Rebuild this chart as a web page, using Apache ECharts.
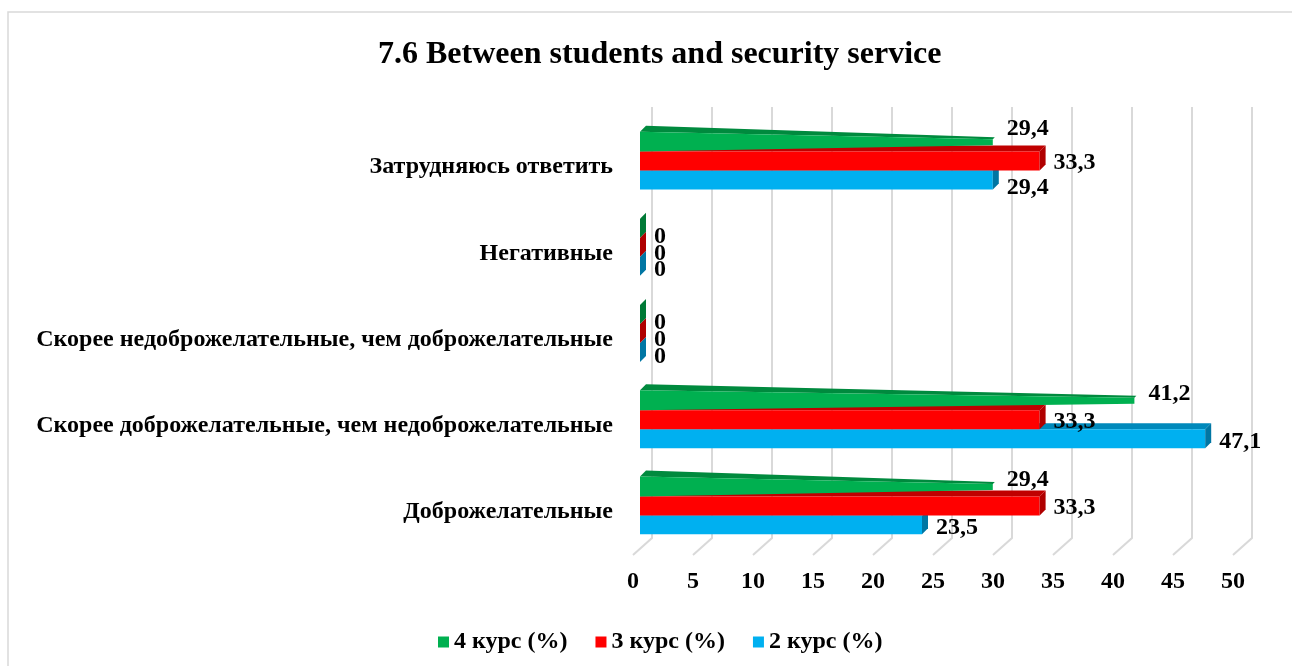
<!DOCTYPE html>
<html>
<head>
<meta charset="utf-8">
<script src="https://cdn.jsdelivr.net/npm/echarts@6/dist/echarts.min.js"></script>
<style>
  html, body { margin: 0; background: #fff; }
  #chart { width: 1292px; height: 666px; }
</style>
</head>
<body>
<div id="chart"></div>
<script>
// categories, bottom to top as on the picture
const categories = [
  'Доброжелательные',
  'Скорее доброжелательные, чем недоброжелательные',
  'Скорее недоброжелательные, чем доброжелательные',
  'Негативные',
  'Затрудняюсь ответить'
];
const course2 = [23.5, 47.1, 0, 0, 29.4];
const course3 = [33.3, 33.3, 0, 0, 33.3];
const course4 = [29.4, 41.2, 0, 0, 29.4];
const xTicks = [0, 5, 10, 15, 20, 25, 30, 35, 40, 45, 50];

const FONT = '"Liberation Serif", "Times New Roman", serif';
const DEPTH = 6;          // bar depth in px
const WALL = [19, -17];   // back wall offset

// label nudges so the labels don't sit on top of each other
const labelNudge = {
  '-1': { base: -7, 4: -13, zero: 8 },
  '0': { base: 2, zero: 6 },
  '1': { base: 3, 4: 8, zero: 4 }
};

const fmt = v => String(v).replace('.', ',');

function barRenderer(level, front, top, side, pyramid) {
  return function (params, api) {
    const v = api.value(0), cat = api.value(1);
    const base = api.coord([0, cat]);
    const tip = api.coord([v, cat]);
    const h = api.size([0, 1])[1] * 0.22;
    const yc = base[1] - 6 + level * h;
    const x0 = base[0] + 7, x1 = tip[0] + 7;
    const yT = yc - h / 2, yB = yc + h / 2;
    const d = DEPTH;
    const children = [];
    if (pyramid && v > 0) {
      children.push({ type: 'polygon', shape: { points: [[x0, yT - 1], [x0 + d, yT - d - 1], [x1 + 2, yc - 5], [x1, yc - 3]] }, style: { fill: top } });
      children.push({ type: 'polygon', shape: { points: [[x0, yT - 1], [x1, yc - 3], [x1, yc + 3], [x0, yB]] }, style: { fill: front } });
    } else {
      children.push({ type: 'polygon', shape: { points: [[x0, yT], [x0 + d, yT - d], [x1 + d, yT - d], [x1, yT]] }, style: { fill: top } });
      children.push({ type: 'rect', shape: { x: x0, y: yT, width: x1 - x0, height: h }, style: { fill: front } });
      children.push({ type: 'polygon', shape: { points: [[x1, yT], [x1 + d, yT - d], [x1 + d, yB - d], [x1, yB]] }, style: { fill: side } });
    }
    const nudge = labelNudge[String(level)];
    let dy = v === 0 ? nudge.zero : (nudge[cat] !== undefined ? nudge[cat] : nudge.base);
    children.push({
      type: 'text',
      style: {
        text: fmt(v), x: x1 + 14, y: yc + dy,
        font: 'bold 24px ' + FONT, fill: '#000',
        align: 'left', verticalAlign: 'middle'
      }
    });
    return { type: 'group', children: children };
  };
}

function wallRenderer(params, api) {
  const cs = params.coordSys;
  const x = api.coord([api.value(0), 0])[0];
  const yb = cs.y + cs.height;
  return {
    type: 'polyline',
    shape: { points: [[x, yb], [x + WALL[0], yb + WALL[1]], [x + WALL[0], cs.y + WALL[1]]] },
    style: { stroke: '#d9d9d9', lineWidth: 2, fill: null }
  };
}

const pairs = arr => arr.map((v, i) => [v, i]);

const option = {
  animation: false,
  backgroundColor: '#fff',
  graphic: [{
    type: 'rect', silent: true,
    shape: { x: 8, y: 12, width: 1300, height: 700 },
    style: { fill: null, stroke: '#d9d9d9', lineWidth: 1.5 }
  }],
  title: {
    text: '7.6 Between students and security service',
    left: 373, top: 34,
    textStyle: { fontFamily: FONT, fontWeight: 'bold', fontSize: 32, color: '#000' }
  },
  legend: {
    data: ['4 курс (%)', '3 курс (%)', '2 курс (%)'],
    left: 433, top: 625,
    icon: 'rect', itemWidth: 11, itemHeight: 11, itemGap: 28,
    textStyle: { fontFamily: FONT, fontWeight: 'bold', fontSize: 24, color: '#000' }
  },
  grid: { left: 633, right: 59, top: 124, bottom: 111 },
  xAxis: {
    type: 'value', min: 0, max: 50, interval: 5,
    axisLine: { show: false }, axisTick: { show: false }, splitLine: { show: false },
    axisLabel: { margin: 15, fontFamily: FONT, fontWeight: 'bold', fontSize: 24, color: '#000' }
  },
  yAxis: {
    type: 'category', data: categories,
    axisLine: { show: false }, axisTick: { show: false },
    axisLabel: { margin: 20, fontFamily: FONT, fontWeight: 'bold', fontSize: 24, color: '#000' }
  },
  series: [
    {
      type: 'custom', name: 'wall', silent: true, clip: false,
      renderItem: wallRenderer, data: xTicks.map(v => [v]), encode: { x: 0 }, z: 1
    },
    {
      type: 'custom', name: '2 курс (%)', clip: false, itemStyle: { color: '#00b0f0' },
      renderItem: barRenderer(1, '#00b0f0', '#0089bb', '#0076a3', false),
      data: pairs(course2), encode: { x: 0, y: 1 }, z: 2
    },
    {
      type: 'custom', name: '3 курс (%)', clip: false, itemStyle: { color: '#ff0000' },
      renderItem: barRenderer(0, '#ff0000', '#c00000', '#b00000', false),
      data: pairs(course3), encode: { x: 0, y: 1 }, z: 3
    },
    {
      type: 'custom', name: '4 курс (%)', clip: false, itemStyle: { color: '#00b050' },
      renderItem: barRenderer(-1, '#00b050', '#008a3e', '#007a36', true),
      data: pairs(course4), encode: { x: 0, y: 1 }, z: 4
    }
  ]
};

const chart = echarts.init(document.getElementById('chart'));
chart.setOption(option);
window.addEventListener('resize', () => chart.resize());
</script>
</body>
</html>
